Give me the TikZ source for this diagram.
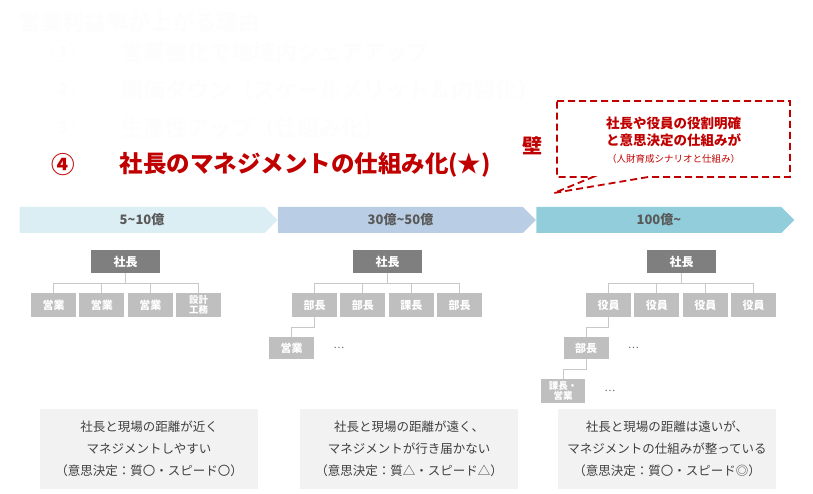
\documentclass[tikz,border=0pt]{standalone}
\usepackage{fontspec}
\setmainfont{Noto Sans CJK JP}
\usetikzlibrary{positioning,shapes.symbols}
\definecolor{wallred}{RGB}{192,0,0}
\definecolor{bossgray}{RGB}{127,127,127}
\definecolor{unitgray}{RGB}{191,191,191}
\definecolor{linegray}{RGB}{200,200,200}
\definecolor{notegray}{RGB}{242,242,242}
\definecolor{textgray}{RGB}{64,64,64}
\definecolor{stagegray}{RGB}{89,89,89}
\definecolor{stageA}{RGB}{218,238,243}
\definecolor{stageB}{RGB}{185,205,229}
\definecolor{stageC}{RGB}{146,205,220}
\definecolor{ghost}{RGB}{253,253,253}
\begin{document}
\begin{tikzpicture}[x=1pt,y=-1pt, node distance=3pt and 3pt,
  stage/.style={signal,signal to=east,signal pointer angle=90,minimum width=258pt,minimum height=26pt,inner sep=0pt,text=stagegray,font=\fontsize{13}{15}\selectfont\bfseries},
  boss/.style={fill=bossgray,text=white,minimum width=69pt,minimum height=23pt,inner sep=0pt,font=\fontsize{12}{14}\selectfont\bfseries},
  unit/.style={fill=unitgray,text=white,minimum width=45pt,minimum height=24pt,inner sep=0pt,align=center,font=\fontsize{11}{12}\selectfont\bfseries},
  small/.style={font=\fontsize{9.5}{10.5}\selectfont\bfseries},
  dots/.style={text=stagegray,font=\fontsize{10}{12}\selectfont},
  link/.style={draw=linegray,line width=1pt},
  note/.style={fill=notegray,minimum width=218pt,minimum height=80pt,inner sep=0pt,align=center,text=textgray,font=\fontsize{12.5}{22}\selectfont},
  head/.style={anchor=west,font=\fontsize{22}{24}\selectfont\bfseries},
  num/.style={font=\fontsize{23.5}{24}\selectfont\bfseries},
  wall/.style={wallred,line width=1.8pt,dash pattern=on 7pt off 4pt}]
\useasboundingbox (0,0) rectangle (813,494);
\node[head,text=ghost] (why) at (15,22) {営業利益率が上がる理由};
\node[num,text=ghost] (n1) at (63.5,52) {①};
\node[head,text=ghost] (r1) at (118,52) {営業強化で地域内シェアアップ};
\node[num,text=ghost] (n2) at (63.5,90) {②};
\node[head,text=ghost] (r2) at (118,90) {原価ダウン（スケールメリット＆内製化）};
\node[num,text=ghost] (n3) at (63.5,128) {③};
\node[head,text=ghost] (r3) at (118,128) {生産性アップ（仕組み化）};
\node[num,text=wallred] (n4) at (63.5,165) {④};
\node[head,text=wallred,font=\fontsize{23.5}{26}\selectfont\bfseries] (r4) at (116,165) {社長のマネジメントの仕組み化(★)};
\node[text=wallred,font=\fontsize{20}{22}\selectfont\bfseries] (wall) at (532,146) {壁};
\node[text=wallred,align=center,font=\fontsize{13.5}{17}\selectfont\bfseries] (goal) at (673.5,132) {社長や役員の役割明確\\と意思決定の仕組みが};
\node[text=wallred,font=\fontsize{9.5}{11}\selectfont,below=0pt of goal] (goalsub) {（人財育成シナリオと仕組み）};
\draw[wall] (557,101) -- (790,101) -- (790,177) -- (648,177) -- (554,193) -- (593,177) -- (557,177) -- cycle;
\node[stage,fill=stageA] (s1) at (142,220) {5\textasciitilde10億};
\node[stage,fill=stageB,right=0pt of s1] (s2) {30億\textasciitilde50億};
\node[stage,fill=stageC,right=0pt of s2] (s3) {100億\textasciitilde};
\node[boss] (ceoA) at (125.5,261.5) {社長};
\node[unit] (a1) at (53.5,305) {営業};
\node[unit,right=of a1] (a2) {営業};
\node[unit,right=of a2] (a3) {営業};
\node[unit,small,right=of a3] (a4) {設計\\工務};
\foreach \u in {a1,a2,a3,a4} \draw[link] (ceoA.south) -- ++(0,10) -| (\u.north);
\node[boss] (ceoB) at (387.5,261.5) {社長};
\node[unit] (b1) at (314.5,305) {部長};
\node[unit,right=of b1] (b2) {部長};
\node[unit,right=of b2] (b3) {課長};
\node[unit,right=of b3] (b4) {部長};
\foreach \u in {b1,b2,b3,b4} \draw[link] (ceoB.south) -- ++(0,10) -| (\u.north);
\node[unit,minimum height=22pt] (b5) at (291.5,348) {営業};
\draw[link] (b1.south) -- ++(0,10) -| (b5.north);
\node[dots,right=16pt of b5] (b5d) {…};
\node[boss] (ceoC) at (681.5,261.5) {社長};
\node[unit] (c1) at (608.5,305) {役員};
\node[unit,right=of c1] (c2) {役員};
\node[unit,right=of c2] (c3) {役員};
\node[unit,right=of c3] (c4) {役員};
\foreach \u in {c1,c2,c3,c4} \draw[link] (ceoC.south) -- ++(0,10) -| (\u.north);
\node[unit,minimum height=22pt] (c5) at (586,348) {部長};
\draw[link] (c1.south) -- ++(0,10) -| (c5.north);
\node[dots,right=16pt of c5] (c5d) {…};
\node[unit,small,minimum width=44pt] (c6) at (563,391) {課長・\\営業};
\draw[link] (c5.south) -- ++(0,10) -| (c6.north);
\node[dots,right=16pt of c6] (c6d) {…};
\node[note] (m1) at (149,449) {社長と現場の距離が近く\\マネジメントしやすい\\（意思決定：質〇・スピード〇）};
\node[note] (m2) at (409,449) {社長と現場の距離が遠く、\\マネジメントが行き届かない\\（意思決定：質△・スピード△）};
\node[note] (m3) at (667,449) {社長と現場の距離は遠いが、\\マネジメントの仕組みが整っている\\（意思決定：質〇・スピード◎）};
\end{tikzpicture}
\end{document}
